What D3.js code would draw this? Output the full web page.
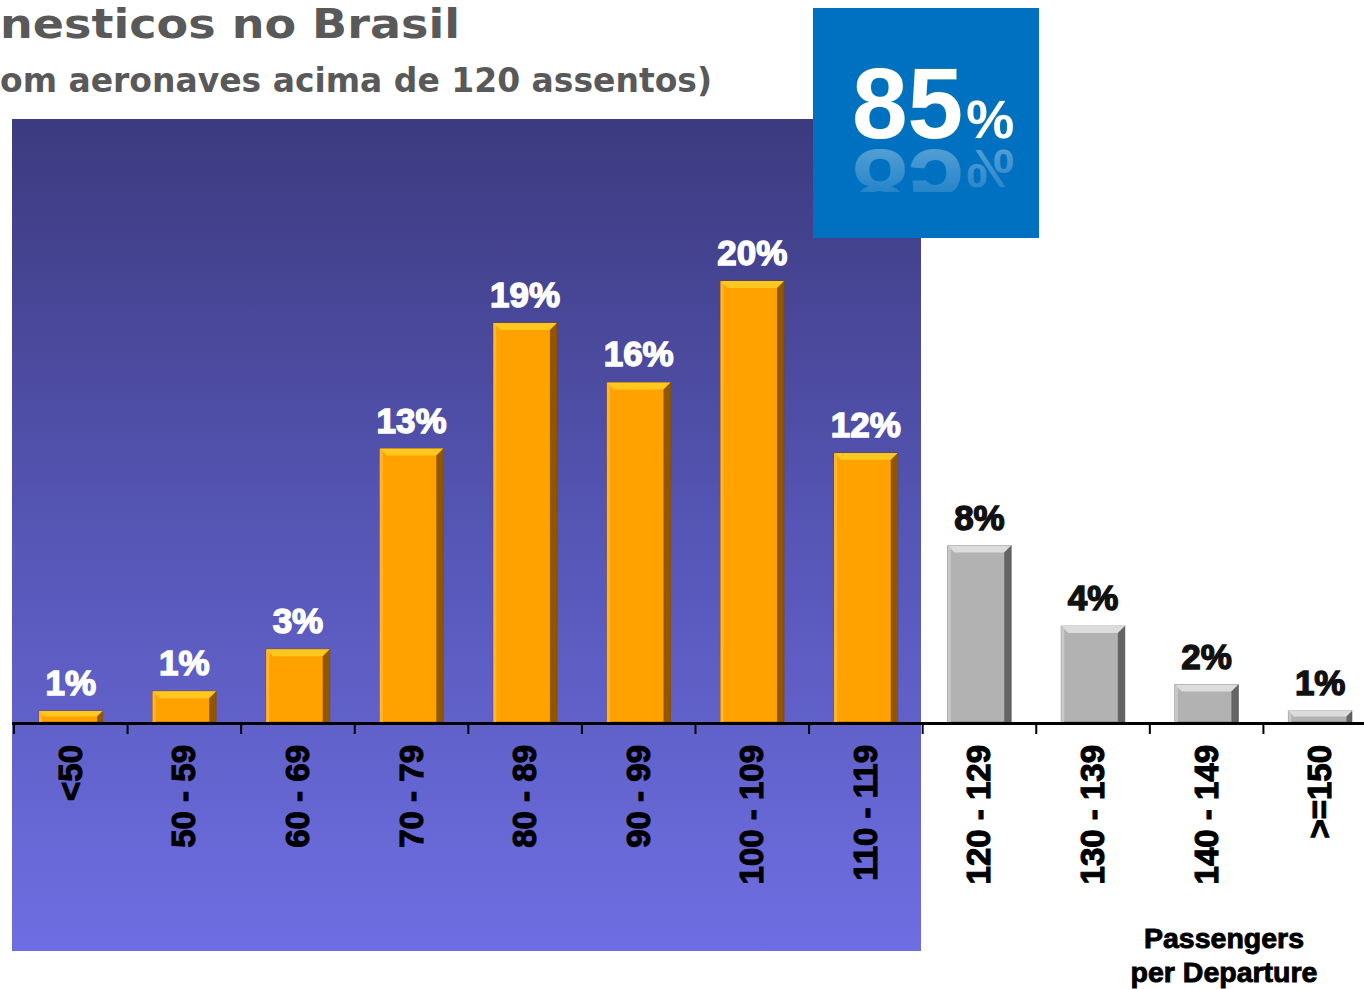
<!DOCTYPE html>
<html>
<head>
  <title>Passengers per Departure</title>
  <style>
    body { margin: 0; background: #fff; }
    svg { display: block; }
  </style>
</head>
<body>
  <svg id="svg"></svg>

  <script src="https://d3js.org/d3.v7.min.js"></script>

  <script>
    // data
    let categories = ["<50", "50 - 59", "60 - 69", "70 - 79", "80 - 89", "90 - 99",
      "100 - 109", "110 - 119", "120 - 129", "130 - 139", "140 - 149", ">=150"];
    let shares = [0.5, 1.4, 3.3, 12.4, 18.1, 15.4, 20.0, 12.2, 8.0, 4.35, 1.7, 0.5];
    let shareLabels = ["1%", "1%", "3%", "13%", "19%", "16%", "20%", "12%", "8%", "4%", "2%", "1%"];
    let highlighted = categories.slice(0, 8);   // bars inside the blue panel
    let titleText = "nesticos no Brasil";
    let subtitleText = "om aeronaves acima de 120 assentos)";
    let bigNumber = "85";
    let axisTitle = ["Passengers", "per Departure"];

    let width = 1364, height = 989;
    let baseY = 722;
    let svg = d3.select("#svg").attr("width", width).attr("height", height);
    let defs = svg.append("defs");

    let bg = defs.append("linearGradient").attr("id", "bg")
      .attr("x1", 0).attr("y1", 0).attr("x2", 0).attr("y2", 1);
    bg.append("stop").attr("offset", "0%").attr("stop-color", "#3c3a7e");
    bg.append("stop").attr("offset", "50%").attr("stop-color", "#5656b6");
    bg.append("stop").attr("offset", "100%").attr("stop-color", "#6e6ee2");

    let refl = defs.append("linearGradient").attr("id", "refl")
      .attr("gradientUnits", "userSpaceOnUse")
      .attr("x1", 0).attr("y1", 60).attr("x2", 0).attr("y2", 138);
    refl.append("stop").attr("offset", "0%").attr("stop-color", "#fff").attr("stop-opacity", 0.0);
    refl.append("stop").attr("offset", "100%").attr("stop-color", "#fff").attr("stop-opacity", 0.32);

    defs.append("clipPath").attr("id", "reflClip")
      .append("rect").attr("x", 813).attr("y", 148).attr("width", 226).attr("height", 44);

    // the 85% glyphs, drawn twice through <use>: once plain, once mirrored
    let big = defs.append("text").attr("id", "big85")
      .attr("x", 852).attr("y", 138)
      .attr("font-family", "'Liberation Sans', Arial, sans-serif")
      .attr("font-weight", "bold");
    big.append("tspan").attr("font-size", 100).text(bigNumber);
    big.append("tspan").attr("font-size", 54).attr("dx", 3).text("%");

    // blue panel behind the first eight bars
    svg.append("rect")
      .attr("x", 12).attr("y", 119).attr("width", 909).attr("height", 832)
      .attr("fill", "url(#bg)");

    // titles
    svg.append("text")
      .attr("x", 0).attr("y", 38)
      .attr("font-family", "'DejaVu Sans', sans-serif")
      .attr("font-weight", "bold").attr("font-size", 41)
      .attr("fill", "#595959")
      .attr("textLength", 460).attr("lengthAdjust", "spacingAndGlyphs")
      .text(titleText);
    svg.append("text")
      .attr("x", 0).attr("y", 92)
      .attr("font-family", "'DejaVu Sans', sans-serif")
      .attr("font-weight", "bold").attr("font-size", 34)
      .attr("fill", "#595959")
      .attr("textLength", 712).attr("lengthAdjust", "spacingAndGlyphs")
      .text(subtitleText);

    // 85% badge
    svg.append("rect")
      .attr("x", 813).attr("y", 8).attr("width", 226).attr("height", 230)
      .attr("fill", "#0070c0");
    svg.append("use").attr("href", "#big85")
      .attr("fill", "#fff").attr("stroke", "#2a8f7a").attr("stroke-width", 0.8)
      .attr("paint-order", "stroke");
    svg.append("g").attr("clip-path", "url(#reflClip)")
      .append("use").attr("href", "#big85")
      .attr("transform", "translate(0,288) scale(1,-1)")
      .attr("fill", "url(#refl)");

    // scales
    let x = d3.scaleBand().domain(categories).range([14, 1377])
      .paddingInner(0.44).paddingOuter(0.22);
    let y = d3.scaleLinear().domain([0, 20]).range([baseY, 281]);
    let edge = d => x(d) - x.step() * 0.22;

    let colors = {
      hi: { body: "#ffa200", top: "#ffc81e", side: "#6b3d00", left: "#ffb52e" },
      lo: { body: "#b2b2b2", top: "#dcdcdc", side: "#4a4a4a", left: "#c8c8c8" }
    };
    let data = categories.map((c, i) => ({
      cat: c, v: shares[i], label: shareLabels[i],
      col: highlighted.includes(c) ? colors.hi : colors.lo
    }));

    let bars = svg.append("g").selectAll("g").data(data).join("g");
    bars.append("rect")
      .attr("x", d => x(d.cat)).attr("y", d => y(d.v))
      .attr("width", x.bandwidth()).attr("height", d => baseY - y(d.v))
      .attr("fill", d => d.col.body)
      .attr("stroke", d => d.col.side).attr("stroke-opacity", 0.5).attr("stroke-width", 1);
    // bevel: top strip, left strip, right shade
    let bev = d => Math.min(7, (baseY - y(d.v)) / 2);
    bars.append("polygon")
      .attr("points", d => {
        let x0 = x(d.cat), x1 = x0 + x.bandwidth(), y0 = y(d.v), b = bev(d);
        return [[x0, y0], [x1, y0], [x1 - b, y0 + b], [x0 + b, y0 + b]].join(" ");
      })
      .attr("fill", d => d.col.top);
    bars.append("polygon")
      .attr("points", d => {
        let x0 = x(d.cat), y0 = y(d.v), b = Math.min(3, bev(d));
        return [[x0, y0], [x0 + b, y0 + b], [x0 + b, baseY], [x0, baseY]].join(" ");
      })
      .attr("fill", d => d.col.left);
    bars.append("polygon")
      .attr("points", d => {
        let x1 = x(d.cat) + x.bandwidth(), y0 = y(d.v), b = bev(d);
        return [[x1, y0], [x1, baseY], [x1 - b, baseY], [x1 - b, y0 + b]].join(" ");
      })
      .attr("fill", d => d.col.side).attr("opacity", 0.75);

    // value labels
    svg.append("g").selectAll("text").data(data).join("text")
      .attr("x", d => x(d.cat) + x.bandwidth() / 2)
      .attr("y", d => y(d.v) - 16)
      .attr("text-anchor", "middle")
      .attr("font-family", "'Liberation Sans', Arial, sans-serif")
      .attr("font-weight", "bold").attr("font-size", 35)
      .attr("fill", d => d.col === colors.hi ? "#fff" : "#111")
      .attr("stroke", d => d.col === colors.hi ? "#fff" : "#111")
      .attr("stroke-width", 1.4)
      .text(d => d.label);

    // axis
    let axis = svg.append("g");
    axis.append("line")
      .attr("x1", 12).attr("x2", width).attr("y1", baseY + 1.5).attr("y2", baseY + 1.5)
      .attr("stroke", "#000").attr("stroke-width", 3);
    axis.selectAll(".tick").data(categories).join("line")
      .attr("class", "tick")
      .attr("x1", edge).attr("x2", edge)
      .attr("y1", baseY).attr("y2", baseY + 12)
      .attr("stroke", "#000").attr("stroke-width", 2);
    axis.selectAll(".lab").data(categories).join("text")
      .attr("class", "lab")
      .attr("transform", d => `translate(${x(d) + x.bandwidth() / 2 + 11}, 745) rotate(-90)`)
      .attr("text-anchor", "end")
      .attr("font-family", "'Liberation Sans', Arial, sans-serif")
      .attr("font-weight", "bold").attr("font-size", 33)
      .attr("fill", "#000").attr("stroke", "#000").attr("stroke-width", 1.1)
      .text(d => d);

    let at = svg.append("text")
      .attr("text-anchor", "middle")
      .attr("font-family", "'Liberation Sans', Arial, sans-serif")
      .attr("font-weight", "bold").attr("font-size", 28.5)
      .attr("fill", "#000").attr("stroke", "#000").attr("stroke-width", 0.9);
    at.selectAll("tspan").data(axisTitle).join("tspan")
      .attr("x", 1224).attr("y", (d, i) => 948 + i * 34)
      .text(d => d);
  </script>
</body>
</html>
